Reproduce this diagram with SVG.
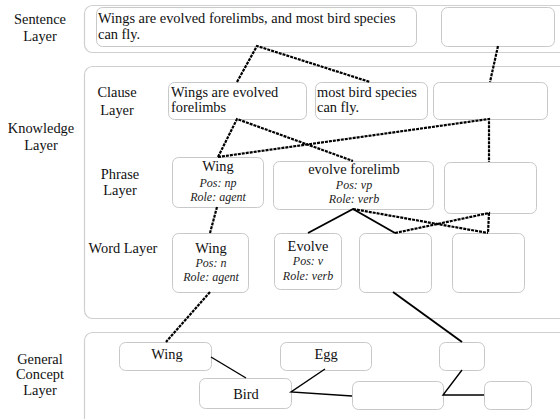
<svg xmlns="http://www.w3.org/2000/svg" width="560" height="419" viewBox="0 0 560 419">
<style>
.bg{fill:#fff}
.outer{fill:#fff;stroke:#cfcfcf;stroke-width:1.2}
.box{fill:#fff;stroke:#c8c8c8;stroke-width:1}
text{font-family:'Liberation Serif','DejaVu Serif','Times New Roman',serif}
.t{font-size:14.4px;fill:#111}
.c{text-anchor:middle}
.i{font-size:12px;font-style:italic;fill:#222;text-anchor:middle}
.d{fill:none;stroke:#000;stroke-width:2.2;stroke-dasharray:3 1}
.s{fill:none;stroke:#000;stroke-width:1.9}
.cs{fill:none;stroke:#000;stroke-width:1.4}
</style>
<rect class="bg" x="0" y="0" width="560" height="419"/>
<g id="layers">
<rect class="outer" x="84.5" y="5.5" width="490" height="47" rx="8"/>
<rect class="outer" x="84.5" y="66.5" width="490" height="252" rx="8"/>
<rect class="outer" x="84.5" y="332.5" width="490" height="100" rx="8"/>
<text class="t c" x="40" y="24">Sentence</text>
<text class="t c" x="40" y="41">Layer</text>
<text class="t c" x="41" y="133">Knowledge</text>
<text class="t c" x="41" y="150">Layer</text>
<text class="t c" x="117" y="97">Clause</text>
<text class="t c" x="117" y="115">Layer</text>
<text class="t c" x="120" y="179">Phrase</text>
<text class="t c" x="120" y="195">Layer</text>
<text class="t c" x="123" y="253">Word Layer</text>
<text class="t c" x="40" y="363.5">General</text>
<text class="t c" x="40" y="379">Concept</text>
<text class="t c" x="40" y="394.5">Layer</text>
</g>
<g id="s1"><rect class="box" x="96.5" y="7.5" width="320" height="39" rx="6"/><text class="t" x="98" y="23">Wings are evolved forelimbs, and most bird species</text><text class="t" x="98" y="38.5">can fly.</text></g>
<g id="s2"><rect class="box" x="441.5" y="7.5" width="113" height="39" rx="6"/></g>
<g id="c1"><rect class="box" x="168.5" y="82.5" width="138" height="37" rx="6"/><text class="t" x="171" y="96.5">Wings are evolved</text><text class="t" x="171" y="112">forelimbs</text></g>
<g id="c2"><rect class="box" x="315.5" y="82.5" width="112" height="37" rx="6"/><text class="t" x="317" y="96.5">most bird species</text><text class="t" x="317" y="112">can fly.</text></g>
<g id="c3"><rect class="box" x="433.5" y="82.5" width="114" height="37" rx="6"/></g>
<g id="p1"><rect class="box" x="172.5" y="157.5" width="91" height="50" rx="6"/><text class="t c" x="218" y="171">Wing</text><text class="i" x="218" y="187">Pos: np</text><text class="i" x="218" y="201">Role: agent</text></g>
<g id="p2"><rect class="box" x="273.5" y="161.5" width="160" height="48" rx="6"/><text class="t c" x="354" y="174">evolve forelimb</text><text class="i" x="354" y="189">Pos: vp</text><text class="i" x="354" y="203">Role: verb</text></g>
<g id="p3"><rect class="box" x="444.5" y="162.5" width="92" height="51" rx="6"/></g>
<g id="w1"><rect class="box" x="172.5" y="233.5" width="76" height="59" rx="6"/><text class="t c" x="211" y="253">Wing</text><text class="i" x="211" y="267">Pos: n</text><text class="i" x="211" y="281">Role: agent</text></g>
<g id="w2"><rect class="box" x="274.5" y="233.5" width="67" height="56" rx="6"/><text class="t c" x="308" y="251">Evolve</text><text class="i" x="308" y="265">Pos: v</text><text class="i" x="308" y="280">Role: verb</text></g>
<g id="w3"><rect class="box" x="359.5" y="233.5" width="72" height="59" rx="6"/></g>
<g id="w4"><rect class="box" x="452.5" y="233.5" width="72" height="59" rx="6"/></g>
<g id="g_wing"><rect class="box" x="119.5" y="342.5" width="92" height="28" rx="6"/><text class="t c" x="167" y="359">Wing</text></g>
<g id="g_egg"><rect class="box" x="280.5" y="342.5" width="91" height="28" rx="6"/><text class="t c" x="326" y="359">Egg</text></g>
<g id="g_small"><rect class="box" x="439.5" y="342.5" width="45" height="28" rx="6"/></g>
<g id="g_bird"><rect class="box" x="199.5" y="378.5" width="92" height="30" rx="6"/><text class="t c" x="246" y="399">Bird</text></g>
<g id="g_mid"><rect class="box" x="352.5" y="381.5" width="91" height="28" rx="6"/></g>
<g id="g_right"><rect class="box" x="484.5" y="381.5" width="47" height="28" rx="6"/></g>
<g id="connectors">
<polyline class="d" points="237,82 257,46 370,82"/>
<line class="d" x1="498" y1="46" x2="490" y2="82"/>
<polyline class="d" points="218,157 237,119 353,161"/>
<polyline class="d" points="218,157 489,119 489,162"/>
<line class="d" x1="217" y1="207" x2="210" y2="233"/>
<polyline class="s" points="308,233 353,209 395,233"/>
<line class="d" x1="353" y1="209" x2="488" y2="233"/>
<polyline class="d" points="395,233 489,213 488,233"/>
<line class="d" x1="210" y1="292" x2="166" y2="342"/>
<line class="s" x1="393" y1="292" x2="462" y2="342"/>
<line class="cs" x1="211" y1="357" x2="246" y2="378"/>
<polyline class="cs" points="325,369 291,392 352,396"/>
<polyline class="cs" points="462,370 443,395 484,395"/>
</g>
</svg>
